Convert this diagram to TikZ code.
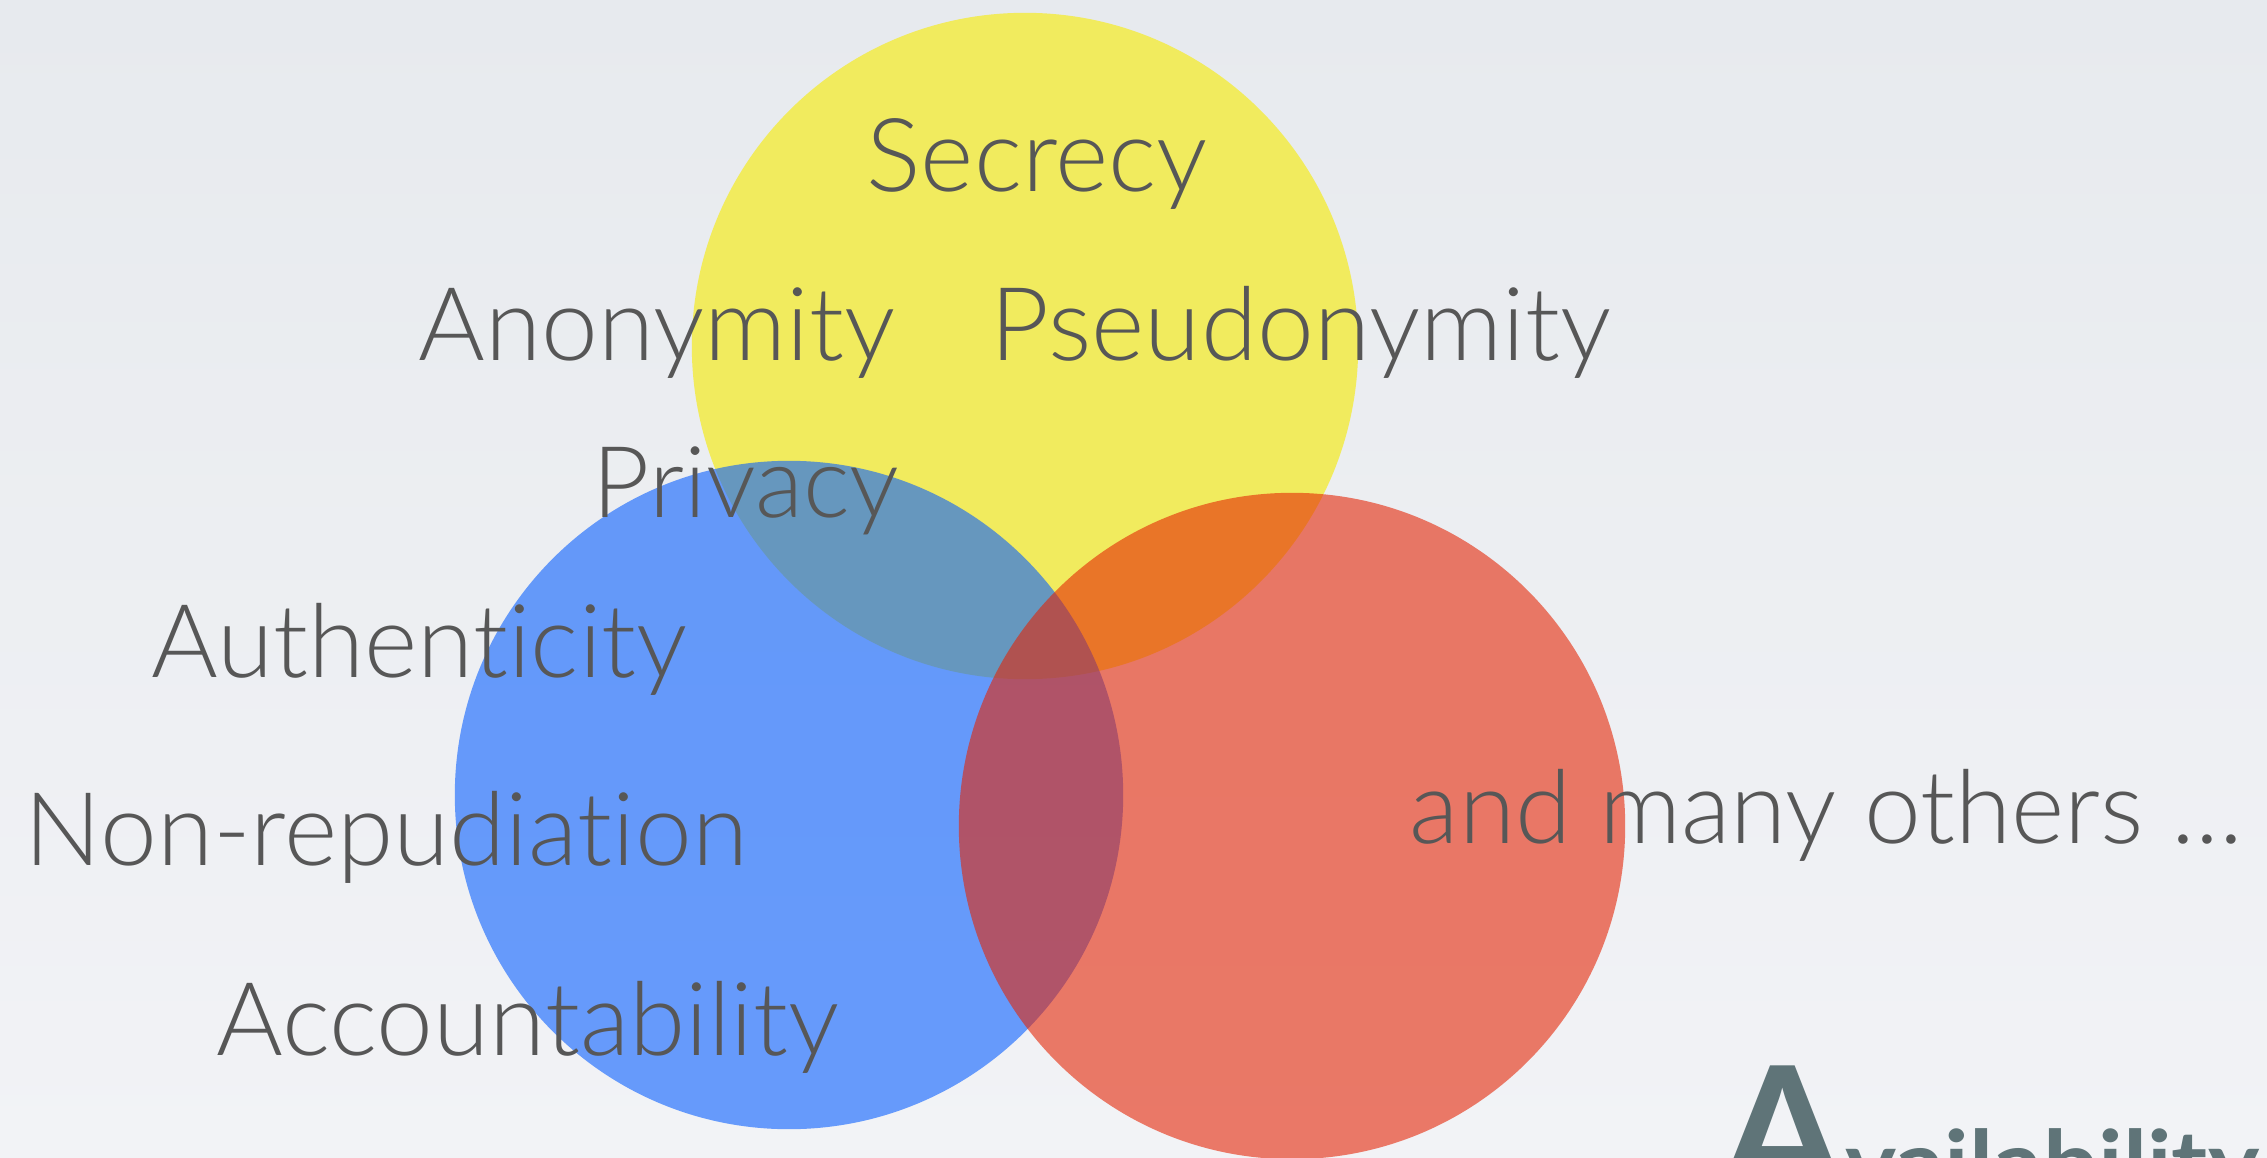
\documentclass[tikz,border=0pt]{standalone}
\usepackage{fontspec}
\setmainfont{Lato}[UprightFont=* Light, BoldFont=* Bold, Ligatures={NoCommon}]
\definecolor{bgA}{RGB}{231,234,238}
\definecolor{bgB}{RGB}{242,243,246}
\definecolor{yel}{RGB}{241,235,94}
\definecolor{blu}{RGB}{10,96,255}
\definecolor{rd}{RGB}{229,35,3}
\definecolor{txt}{RGB}{87,87,87}
\definecolor{avail}{RGB}{95,116,120}
\begin{document}
\begin{tikzpicture}[x=0.01cm,y=-0.01cm,
  lbl/.style={anchor=base west,inner sep=0pt,text=txt,font=\fontsize{29pt}{29pt}\selectfont},
  lblsmall/.style={lbl,font=\fontsize{28.2pt}{28.2pt}\selectfont}]
\useasboundingbox (0,0) rectangle (2267,1158);
\clip (0,0) rectangle (2267,1158);
\shade[top color=bgA,bottom color=bgB] (0,0) rectangle (2267,1158);
\fill[yel] (1025,346) circle[radius=3.33cm];
\fill[blu,fill opacity=0.6] (789,795) circle[radius=3.34cm];
\fill[rd,fill opacity=0.59] (1292,826) circle[radius=3.33cm];
\node[lbl] (sec) at (866,192) {Secrecy};
\node[lbl] (ano) at (418,361) {Anonymity};
\node[lbl] (pse) at (990,361) {Pseudonymity};
\node[lblsmall] (pri) at (592,518) {Privacy};
\node[lbl] (aut) at (151,677) {Authenticity};
\node[lbl] (non) at (24,865) {Non-repudiation};
\node[lbl] (acc) at (216,1055) {Accountability};
\node[lbl] (oth) at (1409,843) {and many others ...};
\node[anchor=base west,inner sep=0pt,text=avail,font=\bfseries] (ava) at (1720,1195)
  {{\fontsize{51pt}{51pt}\selectfont A}\scalebox{1.08}[1]{\fontsize{25.6pt}{26pt}\selectfont vailability}};
\end{tikzpicture}
\end{document}
